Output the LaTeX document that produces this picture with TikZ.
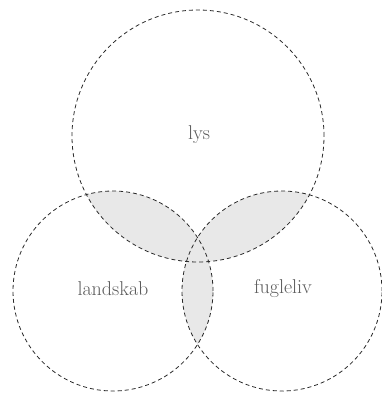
\documentclass[tikz,border=0pt]{standalone}
\usepackage{xcolor}
\definecolor{lensfill}{HTML}{E8E8E8}
\definecolor{edge}{HTML}{2A2A2A}
\definecolor{labeltext}{HTML}{5A5A5A}
\begin{document}
\begin{tikzpicture}[x=1pt,y=-1pt,
  ring/.style={draw=edge,line width=0.8pt,dash pattern=on 4pt off 3pt},
  lab/.style={text=labeltext,font=\fontsize{20}{22}\selectfont,inner sep=0pt}]
\useasboundingbox (0,0) rectangle (382,393);
\coordinate (ct) at (198,136);
\coordinate (cl) at (113,291);
\coordinate (cr) at (282,291);
\begin{scope}
  \clip (ct) circle (126pt);
  \fill[lensfill] (cl) circle (100pt);
  \fill[lensfill] (cr) circle (100pt);
\end{scope}
\begin{scope}
  \clip (cl) circle (100pt);
  \fill[lensfill] (cr) circle (100pt);
\end{scope}
\draw[ring] (ct) circle (126pt);
\draw[ring] (cl) circle (100pt);
\draw[ring] (cr) circle (100pt);
\node[lab] (lys) at (199,135) {lys};
\node[lab] (landskab) at (113,289) {landskab};
\node[lab] (fugleliv) at (283,289) {fugleliv};
\end{tikzpicture}
\end{document}
